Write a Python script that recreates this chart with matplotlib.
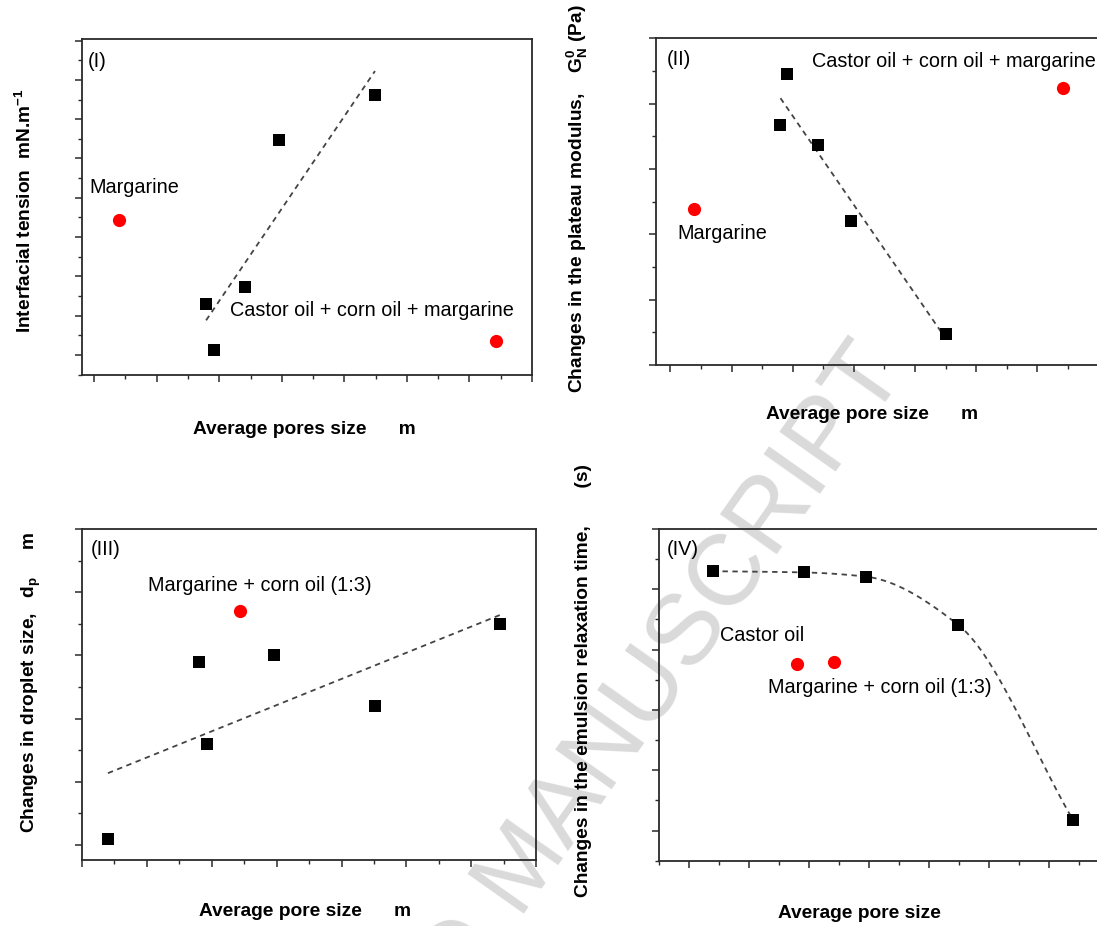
import numpy as np
import matplotlib
matplotlib.use('Agg')
import matplotlib.pyplot as plt
from matplotlib.ticker import MultipleLocator, NullFormatter

# ---- data (arbitrary units, ticks unlabeled) ----
# (I) interfacial tension vs average pores size
p1_sq_x = [1.79, 1.92, 2.42, 2.95, 4.49]
p1_sq_y = [1.30, 0.13, 1.74, 5.47, 6.62]
p1_red_x = [0.40, 6.42]
p1_red_y = [3.44, 0.36]

# (II) plateau modulus vs average pore size
p2_sq_x = [1.91, 1.80, 2.41, 2.96, 4.51]
p2_sq_y = [3.46, 2.67, 2.36, 1.20, -0.52]
p2_red_x = [0.39, 6.42]
p2_red_y = [1.38, 3.24]

# (III) droplet size vs average pore size
p3_sq_x = [0.40, 1.80, 1.92, 2.96, 4.52, 6.44]
p3_sq_y = [0.09, 2.90, 1.59, 3.01, 2.20, 3.50]
p3_red_x = [2.43]
p3_red_y = [3.70]

# (IV) emulsion relaxation time vs average pore size
p4_sq_x = [0.39, 1.91, 2.95, 4.49, 6.41]
p4_sq_y = [4.30, 4.28, 4.21, 3.41, 0.17]
p4_red_x = [1.80, 2.42]
p4_red_y = [2.76, 2.80]

W, H = 1097, 926
ann_fs, lab_fs = 14.3, 13.8

plt.rcParams['font.family'] = ['Liberation Sans', 'DejaVu Sans']
plt.rcParams['mathtext.default'] = 'regular'


def rect(l, t, r, b):
    return [l / W, 1 - b / H, (r - l) / W, (b - t) / H]


def style(ax, xlim, ylim):
    ax.set_xlim(*xlim)
    ax.set_ylim(*ylim)
    ax.set_facecolor('none')
    for s in ax.spines.values():
        s.set_color('#2a2a2a')
        s.set_linewidth(1.3)
    ax.xaxis.set_major_locator(MultipleLocator(1))
    ax.xaxis.set_minor_locator(MultipleLocator(0.5))
    ax.yaxis.set_major_locator(MultipleLocator(1))
    ax.yaxis.set_minor_locator(MultipleLocator(0.5))
    ax.xaxis.set_major_formatter(NullFormatter())
    ax.yaxis.set_major_formatter(NullFormatter())
    ax.tick_params(which='major', direction='out', length=5, width=1.1, color='#2a2a2a')
    ax.tick_params(which='minor', direction='out', length=3, width=1.0, color='#2a2a2a')


def fit_line(ax, xs, ys):
    k, b = np.polyfit(xs, ys, 1)
    xx = np.array([min(xs), max(xs)])
    ax.plot(xx, k * xx + b, color='#444444', lw=1.3, dashes=(3, 2.5), zorder=2)


def pchip(xs, ys, xx):
    x = np.asarray(xs, float)
    y = np.asarray(ys, float)
    h = np.diff(x)
    d = np.diff(y) / h
    m = np.zeros_like(x)
    for i in range(1, len(x) - 1):
        if d[i - 1] * d[i] > 0:
            w1 = 2 * h[i] + h[i - 1]
            w2 = h[i] + 2 * h[i - 1]
            m[i] = (w1 + w2) / (w1 / d[i - 1] + w2 / d[i])
    m[0] = d[0]
    m[-1] = d[-1]
    out = np.empty_like(xx)
    for j, t in enumerate(xx):
        i = min(max(np.searchsorted(x, t) - 1, 0), len(x) - 2)
        s = (t - x[i]) / h[i]
        h00 = 2 * s**3 - 3 * s**2 + 1
        h10 = s**3 - 2 * s**2 + s
        h01 = -2 * s**3 + 3 * s**2
        h11 = s**3 - s**2
        out[j] = h00 * y[i] + h10 * h[i] * m[i] + h01 * y[i + 1] + h11 * h[i] * m[i + 1]
    return out


def points(ax, sx, sy, rx, ry):
    ax.plot(sx, sy, 's', color='black', ms=9, mew=0, zorder=3)
    ax.plot(rx, ry, 'o', color='#ff0000', ms=9.5, mew=0, zorder=3)


fig = plt.figure(figsize=(W / 100, H / 100), dpi=100)

# watermark
fig.text(906 / W, 1 - 372 / H, 'ACCEPTED MANUSCRIPT', fontsize=73, color='#dadada',
         rotation=54.8, rotation_mode='anchor', ha='right', va='baseline', zorder=-1)

# ---- panel I ----
ax1 = fig.add_axes(rect(81.6, 39, 532, 375))
style(ax1, (-0.2, 7.0), (-0.51, 8.04))
fit_line(ax1, p1_sq_x, p1_sq_y)
points(ax1, p1_sq_x, p1_sq_y, p1_red_x, p1_red_y)
ax1.text(-0.10, 7.46, '(I)', fontsize=ann_fs, va='center')
ax1.text(-0.07, 4.25, 'Margarine', fontsize=ann_fs, va='center')
ax1.text(2.18, 1.12, 'Castor oil + corn oil + margarine', fontsize=ann_fs, va='center')

# ---- panel II ----
ax2 = fig.add_axes(rect(656.4, 38.3, 1099, 365))
style(ax2, (-0.23, 7.01), (-1.0, 4.0))
fit_line(ax2, p2_sq_x, p2_sq_y)
points(ax2, p2_sq_x, p2_sq_y, p2_red_x, p2_red_y)
ax2.text(-0.06, 3.67, '(II)', fontsize=ann_fs, va='center')
ax2.text(2.32, 3.65, 'Castor oil + corn oil + margarine', fontsize=ann_fs, va='center')
ax2.text(0.11, 1.01, 'Margarine', fontsize=ann_fs, va='center')

# ---- panel III ----
ax3 = fig.add_axes(rect(82.0, 529, 536.2, 860))
style(ax3, (0.0, 7.0), (-0.24, 5.0))
fit_line(ax3, p3_sq_x, p3_sq_y)
points(ax3, p3_sq_x, p3_sq_y, p3_red_x, p3_red_y)
ax3.text(0.13, 4.68, '(III)', fontsize=ann_fs, va='center')
ax3.text(1.01, 4.10, 'Margarine + corn oil (1:3)', fontsize=ann_fs, va='center')

# ---- panel IV ----
ax4 = fig.add_axes(rect(659.2, 529, 1099, 860.7))
style(ax4, (-0.5, 6.84), (-0.5, 5.0))
xx = np.linspace(min(p4_sq_x), max(p4_sq_x), 200)
ax4.plot(xx, pchip(p4_sq_x, p4_sq_y, xx), color='#444444', lw=1.3, dashes=(3, 2.5), zorder=2)
points(ax4, p4_sq_x, p4_sq_y, p4_red_x, p4_red_y)
ax4.text(-0.38, 4.66, '(IV)', fontsize=ann_fs, va='center')
ax4.text(0.51, 3.23, 'Castor oil', fontsize=ann_fs, va='center')
ax4.text(1.31, 2.38, 'Margarine + corn oil (1:3)', fontsize=ann_fs, va='center')

# ---- axis titles ----
def ftext(x, y, s, **kw):
    fig.text(x / W, 1 - y / H, s, fontsize=lab_fs, fontweight='bold', **kw)

ftext(193, 430, 'Average pores size      m', ha='left', va='center')
ftext(766, 415, 'Average pore size      m', ha='left', va='center')
ftext(199, 912, 'Average pore size      m', ha='left', va='center')
ftext(778, 913, 'Average pore size', ha='left', va='center')

ftext(25, 333, 'Interfacial tension  mN.m$^{-1}$', rotation=90, ha='center', va='bottom')
ftext(577, 393, 'Changes in the plateau modulus,    G$_N^0$ (Pa)', rotation=90, ha='center', va='bottom')
ftext(31, 833, 'Changes in droplet size,   d$_p$     m', rotation=90, ha='center', va='bottom')
ftext(583, 897, 'Changes in the emulsion relaxation time,       (s)', rotation=90, ha='center', va='bottom')

fig.savefig('out.png', dpi=100)
